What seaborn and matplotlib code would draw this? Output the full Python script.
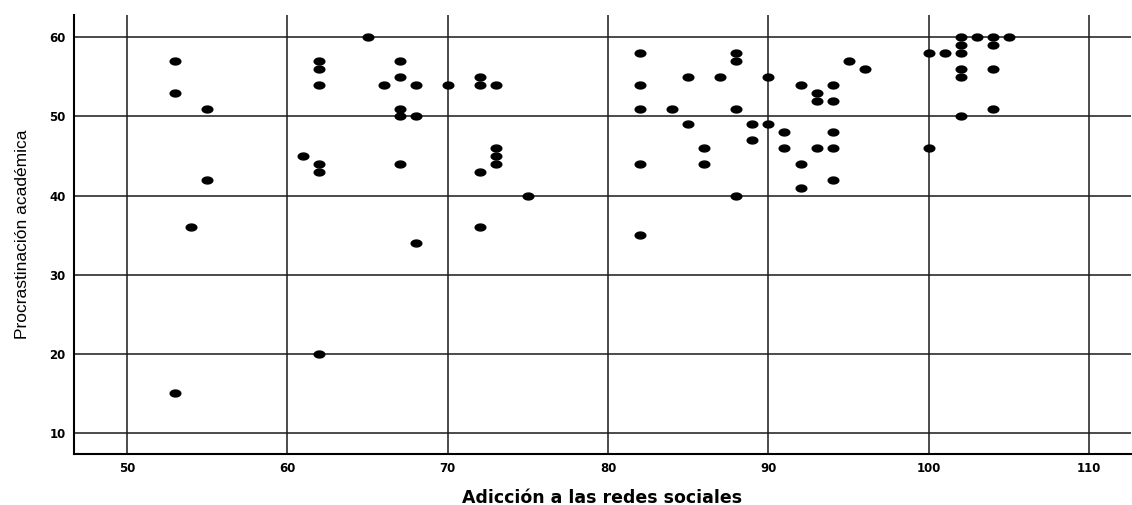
import numpy as np
import pandas as pd
import matplotlib
matplotlib.use("Agg")
import matplotlib.pyplot as plt
from matplotlib.path import Path
import seaborn as sns

# Data
adiccion = [53, 53, 55, 55, 54, 53,
            62, 62, 62, 61, 62, 62, 62,
            65, 66,
            67, 67, 67, 67, 67,
            68, 68, 68, 70,
            72, 72, 72, 72,
            73, 73, 73, 73, 75,
            82, 82, 82, 82, 82, 84, 85, 85, 86, 86, 87,
            88, 88, 88, 88, 89, 89, 90, 90,
            91, 91, 92, 92, 92, 93, 93, 93,
            94, 94, 94, 94, 94, 95, 96,
            100, 100, 101,
            102, 102, 102, 102, 102, 102, 103,
            104, 104, 104, 104, 105]
procrastinacion = [57, 53, 51, 42, 36, 15,
                   57, 56, 54, 45, 44, 43, 20,
                   60, 54,
                   57, 55, 51, 50, 44,
                   54, 50, 34, 54,
                   55, 54, 43, 36,
                   54, 46, 45, 44, 40,
                   58, 54, 51, 44, 35, 51, 55, 49, 46, 44, 55,
                   58, 57, 51, 40, 49, 47, 55, 49,
                   48, 46, 54, 44, 41, 53, 52, 46,
                   54, 52, 48, 46, 42, 57, 56,
                   58, 46, 58,
                   60, 59, 58, 56, 55, 50, 60,
                   60, 59, 56, 51, 60]
x_ticks = [50, 60, 70, 80, 90, 100, 110]
y_ticks = [10, 20, 30, 40, 50, 60]

df = pd.DataFrame({"Adicción a las redes sociales": adiccion,
                   "Procrastinación académica": procrastinacion})

sns.set_style("white")
plt.rcParams["font.family"] = ["Liberation Sans", "DejaVu Sans"]
plt.rcParams["text.color"] = "black"
plt.rcParams["axes.labelcolor"] = "black"
plt.rcParams["xtick.color"] = "black"
plt.rcParams["ytick.color"] = "black"

fig = plt.figure(figsize=(11.32, 5.05), dpi=100)
ax = fig.add_axes([0.0654, 0.101, 0.9336, 0.869])

# slightly wide elliptical marker, as in the reference
t = np.linspace(0, 2 * np.pi, 60)
ell = Path(np.column_stack([1.45 * np.cos(t), np.sin(t)]), closed=True)

sns.scatterplot(data=df, x="Adicción a las redes sociales", y="Procrastinación académica",
                ax=ax, color="black", marker=ell, s=75, edgecolor="black", linewidth=0,
                zorder=3)

ax.set_xlim(46.7, 112.6)
ax.set_ylim(7.35, 62.8)
ax.set_xticks(x_ticks)
ax.set_yticks(y_ticks)
ax.grid(True, color="#1a1a1a", linewidth=1.1, zorder=0)
ax.set_axisbelow(True)
for s in ["top", "right"]:
    ax.spines[s].set_visible(False)
for s in ["left", "bottom"]:
    ax.spines[s].set_color("black")
    ax.spines[s].set_linewidth(1.5)
ax.tick_params(axis="both", length=0, pad=6)
for lab in ax.get_xticklabels() + ax.get_yticklabels():
    lab.set_fontsize(8.5)
    lab.set_fontweight("bold")
    lab.set_family(["DejaVu Sans"])
ax.set_xlabel("Adicción a las redes sociales", fontsize=12.5, fontweight="bold", labelpad=10,
              family=["DejaVu Sans"])
ax.set_ylabel("Procrastinación académica", fontsize=12.5, labelpad=14)

fig.savefig("out.png", dpi=100)
